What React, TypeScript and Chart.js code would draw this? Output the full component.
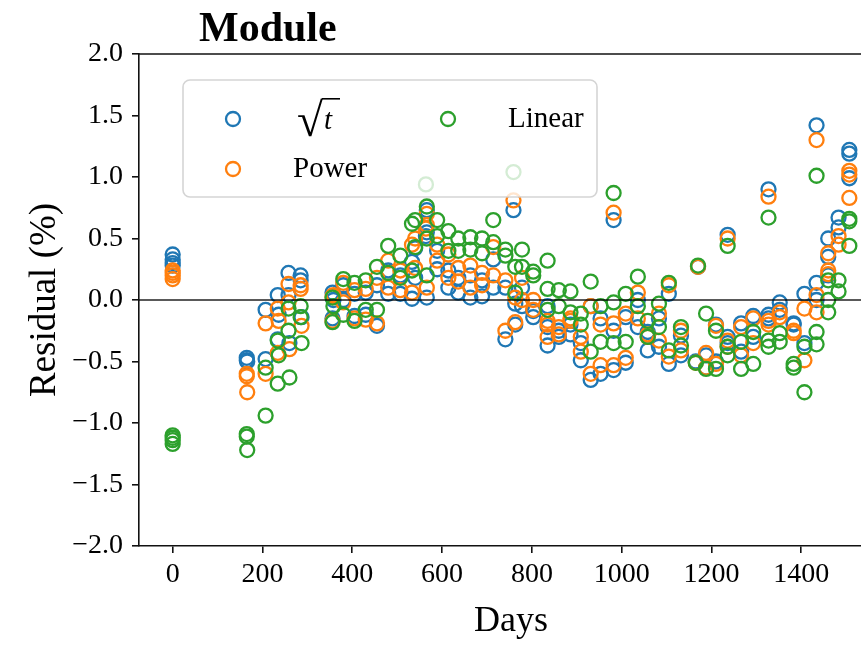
import React, { useEffect, useRef } from "react";
import { Chart, registerables } from "chart.js";
Chart.register(...registerables);

const days = [
  0, 0, 0, 0, 165, 165, 166, 207, 207, 234, 234, 236, 258, 258, 260, 285, 285, 287,
  356, 356, 358, 380, 380, 405, 405, 430, 430, 455, 455, 480, 480, 507, 507, 533, 533,
  540, 540, 564, 566, 566, 566, 589, 589, 614, 614, 636, 636, 663, 663, 689, 689, 714,
  714, 741, 741, 759, 763, 763, 778, 778, 803, 803, 835, 835, 835, 860, 860, 886, 886,
  909, 909, 931, 931, 953, 953, 982, 982, 982, 1009, 1009, 1036, 1036, 1058, 1058, 1083,
  1083, 1105, 1105, 1132, 1132, 1165, 1170, 1188, 1188, 1210, 1210, 1236, 1236, 1236,
  1266, 1266, 1293, 1293, 1327, 1327, 1327, 1352, 1352, 1383, 1383, 1407, 1407, 1434,
  1434, 1434, 1460, 1460, 1460, 1483, 1483, 1507, 1507, 1507,
];
const sqrtT = [
  0.37, 0.33, 0.3, 0.28, -0.47, -0.49, -0.5, -0.08, -0.48, 0.04, -0.32, -0.12, 0.22, 0.04, -0.35, 0.2, 0.16, -0.14,
  0.06, -0.15, 0.0, 0.12, 0.0, 0.05, -0.13, 0.06, -0.12, 0.12, -0.21, 0.24, 0.05, 0.2, 0.05, 0.31, 0.01,
  0.42, 0.18, 0.52, 0.73, 0.55, 0.02, 0.25, 0.4, 0.24, 0.1, 0.06, 0.18, 0.02, 0.2, 0.03, 0.16, 0.1,
  0.33, 0.1, -0.32, 0.73, -0.03, -0.2, 0.1, -0.05, -0.09, -0.14, -0.37, -0.05, -0.22, -0.25, -0.3, -0.28, -0.2,
  -0.35, -0.49, -0.65, -0.05, -0.6, -0.15, 0.65, -0.57, -0.25, -0.51, -0.14, 0.0, -0.22, -0.41, -0.26, -0.15,
  -0.38, 0.05, -0.52, -0.29, -0.45, -0.5, 0.27, -0.45, -0.55, -0.2, -0.5, 0.53, -0.3, -0.35,
  -0.19, -0.42, -0.13, -0.3, 0.9, -0.12, -0.15, -0.02, -0.08, -0.19, -0.2, 0.05, -0.35, 1.42,
  0.14, 0.0, 0.5, 0.35, 0.2, 0.67, 0.59, 1.22, 1.19, 0.99,
];
const power = [
  0.24, 0.2, 0.17, 0.22, -0.6, -0.62, -0.75, -0.19, -0.6, -0.07, -0.43, -0.17, 0.13, -0.02, -0.4, 0.12, 0.09, -0.21,
  0.03, -0.17, 0.04, 0.14, -0.02, 0.08, -0.15, 0.09, -0.16, 0.18, -0.19, 0.32, 0.1, 0.24, 0.08, 0.45, 0.06,
  0.5, 0.26, 0.58, 0.7, 0.61, 0.1, 0.32, 0.45, 0.37, 0.18, 0.15, 0.26, 0.1, 0.28, 0.12, 0.22, 0.2,
  0.43, 0.16, -0.25, 0.81, 0.02, -0.18, 0.18, 0.0, 0.0, -0.08, -0.3, -0.17, -0.2, -0.28, -0.22, -0.17, -0.15,
  -0.3, -0.42, -0.6, -0.05, -0.53, -0.2, 0.71, -0.53, -0.19, -0.47, -0.11, 0.06, -0.15, -0.3, -0.28, -0.11,
  -0.33, 0.12, -0.46, -0.25, -0.41, -0.51, 0.27, -0.43, -0.55, -0.21, -0.52, 0.5, -0.33, -0.38,
  -0.22, -0.45, -0.15, -0.35, 0.84, -0.17, -0.2, -0.1, -0.14, -0.27, -0.25, -0.07, -0.49, 1.3,
  0.04, -0.1, 0.38, 0.24, 0.21, 0.52, 0.45, 1.05, 1.02, 0.83,
];
const linear = [
  -1.1, -1.14, -1.17, -1.12, -1.09, -1.11, -1.22, -0.55, -0.94, -0.33, -0.68, -0.45, -0.07, -0.25, -0.63, -0.05, -0.14, -0.35,
  0.02, -0.18, -0.05, 0.17, -0.12, 0.14, -0.17, 0.16, -0.08, 0.27, -0.08, 0.44, 0.22, 0.36, 0.18, 0.62, 0.24,
  0.65, 0.43, 0.94, 0.76, 0.5, 0.2, 0.65, 0.52, 0.56, 0.4, 0.5, 0.4, 0.51, 0.41, 0.5, 0.38, 0.65,
  0.47, 0.41, 0.36, 1.04, 0.27, 0.06, 0.41, 0.27, 0.23, 0.2, 0.32, 0.09, -0.08, 0.08, -0.05, 0.07, -0.1,
  -0.11, -0.2, 0.15, -0.42, -0.34, -0.05, 0.87, -0.35, -0.02, -0.34, 0.05, 0.19, -0.05, -0.17, -0.3, -0.03,
  -0.22, 0.14, -0.41, -0.22, -0.37, -0.51, 0.28, -0.11, -0.56, -0.25, -0.56, 0.44, -0.38, -0.45,
  -0.34, -0.56, -0.26, -0.52, 0.67, -0.33, -0.38, -0.27, -0.34, -0.52, -0.55, -0.38, -0.75, 1.01,
  -0.26, -0.36, 0.16, -0.1, 0.0, 0.16, 0.07, 0.66, 0.64, 0.44,
];

const seriesNames = ["√t", "Power", "Linear"];
const seriesColors = ["#1f77b4", "#ff7f0e", "#2ca02c"];
const xTicks = [0, 200, 400, 600, 800, 1000, 1200, 1400];
const yTicks = [-2, -1.5, -1, -0.5, 0, 0.5, 1, 1.5, 2];
const chartTitle = "Module";
const xTitle = "Days";
const yTitle = "Residual (%)";

const SERIF = '"Liberation Serif", "Times New Roman", Times, serif';
const MARKER_R = 7;
const MARKER_W = 2.3;

export default function App() {
  const ref = useRef<HTMLCanvasElement>(null);

  useEffect(() => {
    if (!ref.current) return;
    const toPts = (vals: number[]) => days.map((d, i) => ({ x: d, y: vals[i] }));
    const seriesVals = [sqrtT, power, linear];

    const overlay = {
      id: "overlay",
      afterDatasetsDraw(chart: any) {
        const { ctx, chartArea, scales } = chart;
        const L = chartArea.left;
        const T = chartArea.top;
        ctx.save();
        // zero line
        const y0 = scales.y.getPixelForValue(0);
        ctx.strokeStyle = "rgba(0,0,0,0.65)";
        ctx.lineWidth = 2;
        ctx.beginPath();
        ctx.moveTo(L, y0);
        ctx.lineTo(chartArea.right, y0);
        ctx.stroke();
        // top spine
        ctx.strokeStyle = "#111";
        ctx.lineWidth = 1.6;
        ctx.beginPath();
        ctx.moveTo(L - 0.8, T);
        ctx.lineTo(chartArea.right, T);
        ctx.stroke();

        // legend
        const bx = L + 44, by = T + 26, bw = 414, bh = 117;
        ctx.beginPath();
        (ctx as any).roundRect(bx, by, bw, bh, 7);
        ctx.fillStyle = "rgba(255,255,255,0.8)";
        ctx.fill();
        ctx.strokeStyle = "rgba(204,204,204,0.85)";
        ctx.lineWidth = 1.6;
        ctx.stroke();

        const marks = [
          { x: bx + 50, y: by + 39 },
          { x: bx + 50, y: by + 89 },
          { x: bx + 265, y: by + 39 },
        ];
        marks.forEach((m, i) => {
          ctx.beginPath();
          ctx.arc(m.x, m.y, MARKER_R, 0, Math.PI * 2);
          ctx.strokeStyle = seriesColors[i];
          ctx.lineWidth = MARKER_W;
          ctx.stroke();
        });
        ctx.fillStyle = "#000";
        ctx.textBaseline = "middle";
        ctx.textAlign = "left";
        ctx.font = `29px ${SERIF}`;
        ctx.fillText(seriesNames[1], bx + 110, by + 89);
        ctx.fillText(seriesNames[2], bx + 325, by + 39);

        // sqrt(t) label: radical glyph + overbar + italic t
        const rad = seriesNames[0].charAt(0);
        const tt = seriesNames[0].slice(1);
        ctx.textBaseline = "alphabetic";
        ctx.font = `40px ${SERIF}`;
        const mr = ctx.measureText(rad);
        const rTop = 98, rBot = 137;
        const h = mr.actualBoundingBoxAscent + mr.actualBoundingBoxDescent || 39;
        const scale = 39 / h;
        const fs = 40 * scale;
        ctx.font = `${fs}px ${SERIF}`;
        const mr2 = ctx.measureText(rad);
        const baseY = rBot - mr2.actualBoundingBoxDescent;
        const rx = bx + 114;
        ctx.fillText(rad, rx, baseY);
        const rw = mr2.actualBoundingBoxRight || mr2.width;
        ctx.beginPath();
        ctx.moveTo(rx + rw - 1, rTop + 0.8);
        ctx.lineTo(bx + 157, rTop + 0.8);
        ctx.lineWidth = 1.6;
        ctx.strokeStyle = "#000";
        ctx.stroke();
        ctx.font = `italic 29px ${SERIF}`;
        ctx.fillText(tt, bx + 141, by + 49);

        // title
        ctx.font = `bold 42px ${SERIF}`;
        ctx.textBaseline = "alphabetic";
        ctx.fillText(chartTitle, L + 60, 41);
        ctx.restore();
      },
    };

    const chart = new Chart(ref.current, {
      type: "scatter",
      data: {
        datasets: seriesNames.map((name, i) => ({
          label: name,
          data: toPts(seriesVals[i]),
          borderColor: seriesColors[i],
          backgroundColor: "rgba(0,0,0,0)",
          pointRadius: MARKER_R,
          pointHoverRadius: MARKER_R,
          pointBorderWidth: MARKER_W,
          borderWidth: MARKER_W,
          showLine: false,
          order: 3 - i,
        })),
      },
      options: {
        responsive: false,
        animation: false,
        events: [],
        layout: { padding: { top: 54, right: 17, bottom: 0, left: 0 } },
        plugins: {
          legend: { display: false },
          tooltip: { enabled: false },
          title: { display: false },
        },
        scales: {
          x: {
            type: "linear",
            min: -75,
            max: 1582,
            afterBuildTicks: (s: any) => {
              s.ticks = xTicks.map((v) => ({ value: v }));
            },
            afterFit: (s: any) => {
              s.height = 99;
            },
            ticks: {
              font: { family: SERIF, size: 28 },
              color: "#000",
              padding: 5,
              maxRotation: 0,
              autoSkip: false,
              callback: (v: any) => String(v),
            },
            grid: {
              display: true,
              drawOnChartArea: false,
              drawTicks: true,
              tickLength: 7,
              color: "#111",
              lineWidth: 1.6,
            },
            border: { display: true, color: "#111", width: 1.6 },
            title: {
              display: true,
              text: xTitle,
              font: { family: SERIF, size: 36 },
              color: "#000",
              padding: { top: 0, bottom: 2 },
            },
          },
          y: {
            type: "linear",
            min: -2,
            max: 2,
            afterBuildTicks: (s: any) => {
              s.ticks = yTicks.map((v) => ({ value: v }));
            },
            afterFit: (s: any) => {
              s.width = 139;
            },
            ticks: {
              font: { family: SERIF, size: 28 },
              color: "#000",
              padding: 9,
              autoSkip: false,
              callback: (v: any) => (v < 0 ? "\u2212" : "") + Math.abs(Number(v)).toFixed(1),
            },
            grid: {
              display: true,
              drawOnChartArea: false,
              drawTicks: true,
              tickLength: 7,
              color: "#111",
              lineWidth: 1.6,
            },
            border: { display: true, color: "#111", width: 1.6 },
            title: {
              display: true,
              text: yTitle,
              font: { family: SERIF, size: 37 },
              color: "#000",
              padding: { top: 23, bottom: 0 },
            },
          },
        },
      },
      plugins: [overlay],
    });
    return () => chart.destroy();
  }, []);

  return (
    <div
      style={{
        position: "fixed",
        left: 0,
        top: 0,
        width: 861,
        height: 645,
        overflow: "hidden",
        background: "#fff",
      }}
    >
      <canvas ref={ref} width={900} height={645} style={{ display: "block" }} />
    </div>
  );
}
